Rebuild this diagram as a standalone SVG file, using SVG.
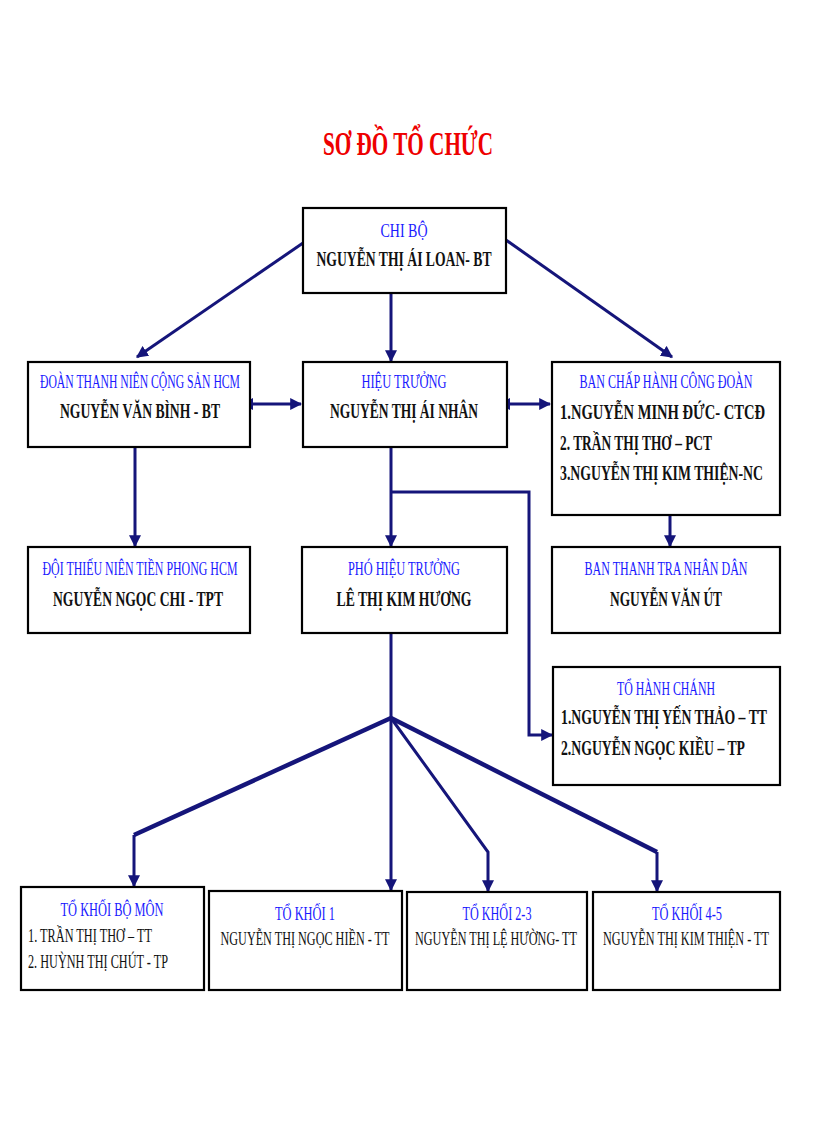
<svg xmlns="http://www.w3.org/2000/svg" width="816" height="1123" viewBox="0 0 816 1123">
<style>
.box{fill:#fff;stroke:#000;stroke-width:2.2}
.t{font-family:"Liberation Serif","DejaVu Serif",serif;text-anchor:middle}
.b{fill:#1a1aff;font-size:19px}
.k{fill:#111;font-size:22px;font-weight:bold}
.ks{fill:#111;font-size:19px}
.l{fill:#111;font-size:22px;font-weight:bold;text-anchor:start}
.ls{fill:#111;font-size:19px;text-anchor:start}
.c{fill:none;stroke:#15157a;stroke-width:3;stroke-linejoin:miter}
.c4{fill:none;stroke:#15157a;stroke-width:4.5}
</style>
<defs>
<marker id="ah" viewBox="0 0 10 10" refX="9" refY="5" markerWidth="4" markerHeight="4" orient="auto" markerUnits="strokeWidth">
<path d="M0,0 L10,5 L0,10 z" fill="#15157a"/>
</marker>
<marker id="as" viewBox="0 0 10 10" refX="1" refY="5" markerWidth="4" markerHeight="4" orient="auto-start-reverse" markerUnits="strokeWidth">
<path d="M0,0 L10,5 L0,10 z" fill="#15157a"/>
</marker>
</defs>
<rect width="816" height="1123" fill="#fff"/>
<text class="t" x="408" y="155" fill="#ee0000" font-size="33" font-weight="bold" textLength="170" lengthAdjust="spacingAndGlyphs">SƠ ĐỒ TỔ CHỨC</text>

<g id="connectors">
<path class="c" d="M303,243 L137,357" marker-end="url(#ah)"/>
<path class="c" d="M506,240 L672,357" marker-end="url(#ah)"/>
<path class="c" d="M391,293 L391,361" marker-end="url(#ah)"/>
<path class="c" d="M252,404 L301,404" marker-start="url(#as)" marker-end="url(#ah)"/>
<path class="c" d="M509,404 L550,404" marker-start="url(#as)" marker-end="url(#ah)"/>
<path class="c" d="M135,447 L135,546" marker-end="url(#ah)"/>
<path class="c" d="M391,447 L391,546" marker-end="url(#ah)"/>
<path class="c" d="M391,492 L529,492 L529,735 L552,735" marker-end="url(#ah)"/>
<path class="c" d="M670,515 L670,546" marker-end="url(#ah)"/>
<path class="c" d="M391,633 L391,890" marker-end="url(#ah)"/>
<path class="c4" d="M391,718 L134,835"/>
<path class="c" d="M134,835 L134,886" marker-end="url(#ah)"/>
<path class="c" d="M391,718 L488,852 L488,891" marker-end="url(#ah)"/>
<path class="c4" d="M391,718 L657,852"/>
<path class="c" d="M657,852 L657,891" marker-end="url(#ah)"/>
</g>

<g id="chibo">
<rect class="box" x="303" y="208" width="203" height="85"/>
<text class="t b" x="404" y="237" textLength="47" lengthAdjust="spacingAndGlyphs">CHI BỘ</text>
<text class="t k" x="404" y="266" textLength="175" lengthAdjust="spacingAndGlyphs">NGUYỄN THỊ ÁI LOAN- BT</text>
</g>

<g id="doan">
<rect class="box" x="28" y="362" width="222" height="85"/>
<text class="t b" x="140" y="388" textLength="200" lengthAdjust="spacingAndGlyphs">ĐOÀN THANH NIÊN CỘNG SẢN HCM</text>
<text class="t k" x="140" y="418" textLength="160" lengthAdjust="spacingAndGlyphs">NGUYỄN VĂN BÌNH - BT</text>
</g>

<g id="hieutruong">
<rect class="box" x="303" y="362" width="204" height="85"/>
<text class="t b" x="404" y="388" textLength="85" lengthAdjust="spacingAndGlyphs">HIỆU TRƯỞNG</text>
<text class="t k" x="404" y="418" textLength="148" lengthAdjust="spacingAndGlyphs">NGUYỄN THỊ ÁI NHÂN</text>
</g>

<g id="bch">
<rect class="box" x="552" y="362" width="228" height="153"/>
<text class="t b" x="666" y="388" textLength="173" lengthAdjust="spacingAndGlyphs">BAN CHẤP HÀNH CÔNG ĐOÀN</text>
<text class="t l" x="560" y="419" textLength="205" lengthAdjust="spacingAndGlyphs">1.NGUYỄN MINH ĐỨC- CTCĐ</text>
<text class="t l" x="560" y="450" textLength="152" lengthAdjust="spacingAndGlyphs">2. TRẦN THỊ THƠ – PCT</text>
<text class="t l" x="560" y="480" textLength="203" lengthAdjust="spacingAndGlyphs">3.NGUYỄN THỊ KIM THIỆN-NC</text>
</g>

<g id="doi">
<rect class="box" x="28" y="547" width="222" height="86"/>
<text class="t b" x="140" y="575" textLength="195" lengthAdjust="spacingAndGlyphs">ĐỘI THIẾU NIÊN TIỀN PHONG HCM</text>
<text class="t k" x="138" y="606" textLength="170" lengthAdjust="spacingAndGlyphs">NGUYỄN NGỌC CHI - TPT</text>
</g>

<g id="phohieutruong">
<rect class="box" x="302" y="547" width="205" height="86"/>
<text class="t b" x="404" y="575" textLength="112" lengthAdjust="spacingAndGlyphs">PHÓ HIỆU TRƯỞNG</text>
<text class="t k" x="404" y="606" textLength="135" lengthAdjust="spacingAndGlyphs">LÊ THỊ KIM HƯƠNG</text>
</g>

<g id="thanhtra">
<rect class="box" x="552" y="547" width="228" height="86"/>
<text class="t b" x="666" y="575" textLength="163" lengthAdjust="spacingAndGlyphs">BAN THANH TRA NHÂN DÂN</text>
<text class="t k" x="666" y="606" textLength="112" lengthAdjust="spacingAndGlyphs">NGUYỄN VĂN ÚT</text>
</g>

<g id="hanhchanh">
<rect class="box" x="553" y="667" width="227" height="118"/>
<text class="t b" x="666" y="695" textLength="98" lengthAdjust="spacingAndGlyphs">TỔ HÀNH CHÁNH</text>
<text class="t l" x="561" y="724" textLength="206" lengthAdjust="spacingAndGlyphs">1.NGUYỄN THỊ YẾN THẢO – TT</text>
<text class="t l" x="561" y="755" textLength="184" lengthAdjust="spacingAndGlyphs">2.NGUYỄN NGỌC KIỀU – TP</text>
</g>

<g id="bomon">
<rect class="box" x="21" y="887" width="183" height="103"/>
<text class="t b" x="112" y="916" textLength="103" lengthAdjust="spacingAndGlyphs">TỔ KHỐI BỘ MÔN</text>
<text class="t ls" x="28" y="942" textLength="124" lengthAdjust="spacingAndGlyphs">1. TRẦN THỊ THƠ – TT</text>
<text class="t ls" x="28" y="968" textLength="140" lengthAdjust="spacingAndGlyphs">2. HUỲNH THỊ CHÚT - TP</text>
</g>

<g id="khoi1">
<rect class="box" x="209" y="891" width="193" height="99"/>
<text class="t b" x="305" y="920" textLength="60" lengthAdjust="spacingAndGlyphs">TỔ KHỐI 1</text>
<text class="t ks" x="305" y="945" textLength="169" lengthAdjust="spacingAndGlyphs">NGUYỄN THỊ NGỌC HIỀN - TT</text>
</g>

<g id="khoi23">
<rect class="box" x="407" y="892" width="180" height="98"/>
<text class="t b" x="497" y="920" textLength="69" lengthAdjust="spacingAndGlyphs">TỔ KHỐI 2-3</text>
<text class="t ks" x="496" y="945" textLength="162" lengthAdjust="spacingAndGlyphs">NGUYỄN THỊ LỆ HƯỜNG- TT</text>
</g>

<g id="khoi45">
<rect class="box" x="593" y="892" width="187" height="98"/>
<text class="t b" x="687" y="920" textLength="70" lengthAdjust="spacingAndGlyphs">TỔ KHỐI 4-5</text>
<text class="t ks" x="686" y="945" textLength="166" lengthAdjust="spacingAndGlyphs">NGUYỄN THỊ KIM THIỆN - TT</text>
</g>
</svg>
